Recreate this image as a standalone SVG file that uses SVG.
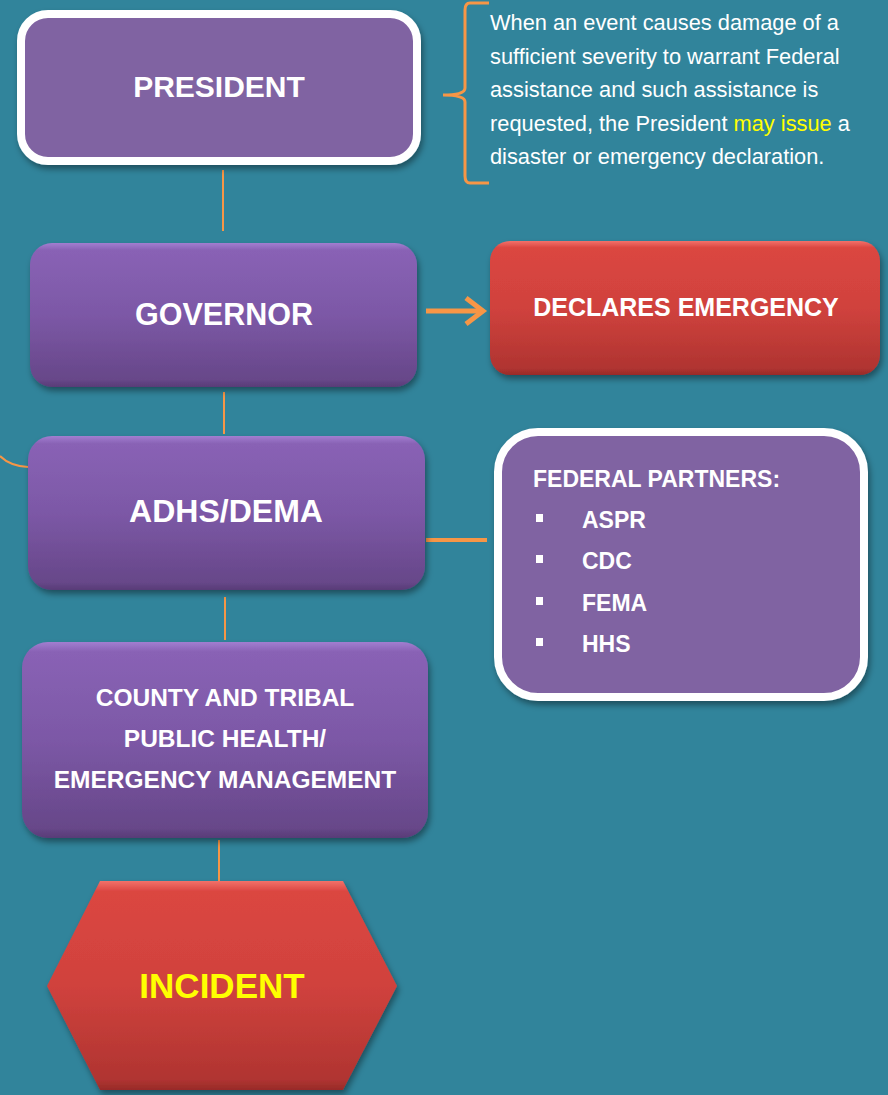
<svg xmlns="http://www.w3.org/2000/svg" width="888" height="1095" viewBox="0 0 888 1095">
<defs>
<linearGradient id="gPurple" x1="0" y1="0" x2="0" y2="1">
<stop offset="0" stop-color="#a27ed0"/>
<stop offset="0.05" stop-color="#8962b5"/>
<stop offset="0.5" stop-color="#7c58a6"/>
<stop offset="0.95" stop-color="#674789"/>
<stop offset="1" stop-color="#583c77"/>
</linearGradient>
<linearGradient id="gRed" x1="0" y1="0" x2="0" y2="1">
<stop offset="0" stop-color="#f2716a"/>
<stop offset="0.05" stop-color="#db4641"/>
<stop offset="0.5" stop-color="#d0423d"/>
<stop offset="0.95" stop-color="#b03431"/>
<stop offset="1" stop-color="#972b28"/>
</linearGradient>
<filter id="sh" x="-10%" y="-10%" width="120%" height="130%">
<feDropShadow dx="2" dy="4" stdDeviation="3" flood-color="#000" flood-opacity="0.4"/>
</filter>
<style>
.lbl{font-family:"Liberation Sans",Arial,sans-serif;font-weight:bold;fill:#fff;text-anchor:middle}
.para{font-family:"Liberation Sans",Arial,sans-serif;font-size:21.8px;fill:#fff}
.conn{stroke:#f79646;fill:none}
.fed{font-family:"Liberation Sans",Arial,sans-serif;font-weight:bold;fill:#fff;font-size:23px}
</style>
</defs>
<rect x="0" y="0" width="888" height="1095" fill="#31849b"/>

<g id="connectors">
<line class="conn" x1="223" y1="170" x2="223" y2="231" stroke-width="2"/>
<line class="conn" x1="224" y1="392" x2="224" y2="434" stroke-width="2"/>
<line class="conn" x1="225" y1="597" x2="225" y2="640" stroke-width="2"/>
<line class="conn" x1="219" y1="840" x2="219" y2="881" stroke-width="2"/>
<path class="conn" d="M0,456 Q10,466 28,467" stroke-width="2"/>
<line class="conn" x1="426" y1="540" x2="487" y2="540" stroke-width="4"/>
<g id="arrow">
<line class="conn" x1="426" y1="311" x2="481" y2="311" stroke-width="5"/>
<polyline class="conn" points="466,298 483,311 466,324" stroke-width="5" stroke-linejoin="miter"/>
</g>
<g id="bracket">
<path class="conn" stroke-width="3" d="M489,3 L470,3 Q465,3 465,10 L465,88 Q465,95 443,95 Q465,95 465,102 L465,176 Q465,183 470,183 L489,183"/>
</g>
</g>

<g id="president">
<rect x="21" y="14" width="396" height="147" rx="27" fill="#8064a2" stroke="#fff" stroke-width="8" filter="url(#sh)"/>
<text class="lbl" x="219" y="97" font-size="30">PRESIDENT</text>
</g>

<g id="note">
<text class="para" x="490" y="30">When an event causes damage of a</text>
<text class="para" x="490" y="63.5">sufficient severity to warrant Federal</text>
<text class="para" x="490" y="97">assistance and such assistance is</text>
<text class="para" x="490" y="130.5">requested, the President <tspan fill="#ffff00">may issue</tspan> a</text>
<text class="para" x="490" y="164">disaster or emergency declaration.</text>
</g>

<g id="governor">
<rect x="30" y="243" width="387" height="144" rx="22" fill="url(#gPurple)" filter="url(#sh)"/>
<text class="lbl" x="224" y="325" font-size="30.5">GOVERNOR</text>
</g>

<g id="declares">
<rect x="490" y="241" width="390" height="134" rx="20" fill="url(#gRed)" filter="url(#sh)"/>
<text class="lbl" x="686" y="316" font-size="25">DECLARES EMERGENCY</text>
</g>

<g id="adhs">
<rect x="28" y="436" width="397" height="154" rx="24" fill="url(#gPurple)" filter="url(#sh)"/>
<text class="lbl" x="226" y="522" font-size="32">ADHS/DEMA</text>
</g>

<g id="federal">
<rect x="498" y="432" width="366" height="265" rx="40" fill="#8064a2" stroke="#fff" stroke-width="8" filter="url(#sh)"/>
<text class="fed" x="533" y="487">FEDERAL PARTNERS:</text>
<rect x="536" y="514" width="7" height="8" fill="#fff"/>
<text class="fed" x="582" y="528">ASPR</text>
<rect x="536" y="555" width="7" height="8" fill="#fff"/>
<text class="fed" x="582" y="569">CDC</text>
<rect x="536" y="597" width="7" height="8" fill="#fff"/>
<text class="fed" x="582" y="611">FEMA</text>
<rect x="536" y="638" width="7" height="8" fill="#fff"/>
<text class="fed" x="582" y="652">HHS</text>
</g>

<g id="county">
<rect x="22" y="642" width="406" height="196" rx="26" fill="url(#gPurple)" filter="url(#sh)"/>
<text class="lbl" x="225" y="706" font-size="24.5">COUNTY AND TRIBAL</text>
<text class="lbl" x="225" y="747" font-size="24.5">PUBLIC HEALTH/</text>
<text class="lbl" x="225" y="788" font-size="24.5">EMERGENCY MANAGEMENT</text>
</g>

<g id="incident">
<polygon points="100,881 343,881 397,986 343,1090 100,1090 47,986" fill="url(#gRed)" filter="url(#sh)"/>
<text class="lbl" x="222" y="998" font-size="35" style="fill:#ffff00">INCIDENT</text>
</g>
</svg>
